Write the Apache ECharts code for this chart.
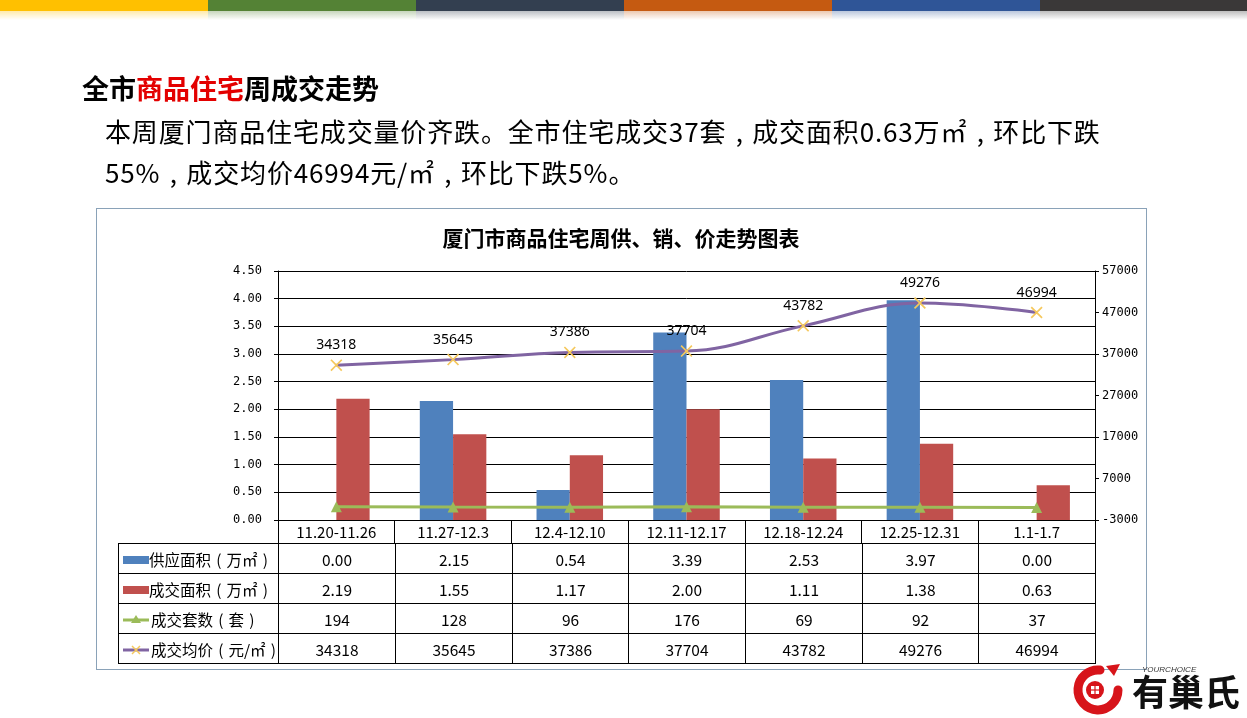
<!DOCTYPE html>
<html>
<head>
<meta charset="utf-8">
<script src="https://cdn.jsdelivr.net/npm/echarts@6/dist/echarts.min.js"></script>
<style>
  html, body { margin: 0; padding: 0; background: #fff; }
  body { width: 1247px; height: 718px; position: relative; overflow: hidden;
         font-family: "Noto Sans CJK SC", "Noto Sans", sans-serif; color: #000; }
  .stripe { position: absolute; top: 0; height: 20px; width: 208px; }
  .c { display: inline-block; width: 1em; text-align: center; letter-spacing: 0; }
  #heading { position: absolute; left: 82px; top: 70px; line-height: 36px; font-size: 27px; font-weight: bold; }
  #heading span { color: #e30000; }
  #para { position: absolute; left: 105px; top: 110px; line-height: 41px; font-size: 26px; letter-spacing: 0.85px; white-space: nowrap; }
  #box { position: absolute; left: 96px; top: 208px; width: 1049px; height: 460px; border: 1px solid #8aa2b8; }
  #chart { position: absolute; left: 0; top: 0; width: 1247px; height: 718px; }
  #tbl { position: absolute; left: 118px; top: 543px; width: 978px; border-collapse: collapse; table-layout: fixed; font-size: 15.5px; }
  #tbl td { border: 1px solid #000; height: 29px; padding: 0; text-align: center; white-space: nowrap; overflow: hidden; }
  #tbl td.name { text-align: left; }
  .key { display: inline-block; width: 26px; height: 8px; vertical-align: middle; margin: 0 0 2px 4px; }
  #logo { position: absolute; left: 1060px; top: 660px; }
</style>
</head>
<body>
<div id="box"></div>
<div id="chart"></div>
<div id="stripes"></div>
<div id="heading">全市<span>商品住宅</span>周成交走势</div>
<div id="para">本周厦门商品住宅成交量价齐跌。全市住宅成交37套<span class="c">,</span>成交面积0.63万㎡<span class="c">,</span>环比下跌<br>55%<span class="c">,</span>成交均价46994元/㎡<span class="c">,</span>环比下跌5%。</div>
<table id="tbl"></table>
<svg id="logo" width="185" height="56" viewBox="0 0 185 56">
  <path d="M40 10 A20 20 0 1 0 58 30" fill="none" stroke="#d7141a" stroke-width="9" stroke-linecap="round"/>
  <path d="M46 6 L60 4 L54 16 Z" fill="#d7141a"/>
  <circle cx="35" cy="30" r="9" fill="#d7141a"/>
  <rect x="31" y="26" width="8" height="8" fill="#fff"/>
  <line x1="35" y1="26" x2="35" y2="34" stroke="#d7141a" stroke-width="1.2"/>
  <line x1="31" y1="30" x2="39" y2="30" stroke="#d7141a" stroke-width="1.2"/>
  <text x="82" y="12" font-size="8" font-style="italic" font-family="Liberation Sans" fill="#333">YOURCHOICE</text>
  <text x="72" y="46" font-size="36" font-weight="bold" font-family="Noto Sans CJK SC" fill="#111">有巢氏</text>
</svg>
<script>
// 数据
const categories = ['11.20-11.26', '11.27-12.3', '12.4-12.10', '12.11-12.17', '12.18-12.24', '12.25-12.31', '1.1-1.7'];
const supplyArea = [0.00, 2.15, 0.54, 3.39, 2.53, 3.97, 0.00];
const dealArea = [2.19, 1.55, 1.17, 2.00, 1.11, 1.38, 0.63];
const dealUnits = [194, 128, 96, 176, 69, 92, 37];
const avgPrice = [34318, 35645, 37386, 37704, 43782, 49276, 46994];
const seriesNames = ['供应面积（万㎡）', '成交面积（万㎡）', '成交套数（套）', '成交均价（元/㎡）'];

const stripeColors = ['#ffc000', '#548235', '#333f50', '#c55a11', '#2f5597', '#3a3838'];
const stripes = document.getElementById('stripes');
stripeColors.forEach((c, i) => {
  const d = document.createElement('div');
  d.className = 'stripe';
  d.style.left = (i * 208) + 'px';
  d.style.background = 'linear-gradient(to bottom, ' + c + ' 0, ' + c + ' 11px, ' + c + '55 11px, ' + c + '00 20px)';
  stripes.appendChild(d);
});

// 表格
const keys = [
  '<span class="key" style="background:#4f81bd"></span>',
  '<span class="key" style="background:#c0504d"></span>',
  '<svg width="30" height="12" style="vertical-align:middle;margin:0 0 2px 2px"><line x1="2" y1="6" x2="28" y2="6" stroke="#9bbb59" stroke-width="3"/><path d="M15 1 L20 9 L10 9 Z" fill="#9bbb59"/></svg>',
  '<svg width="30" height="12" style="vertical-align:middle;margin:0 0 2px 2px"><line x1="2" y1="6" x2="28" y2="6" stroke="#8064a2" stroke-width="3"/><path d="M11 2 L19 10 M19 2 L11 10" stroke="#f5c85c" stroke-width="1.5"/></svg>'
];
const rows = [
  supplyArea.map(v => v.toFixed(2)),
  dealArea.map(v => v.toFixed(2)),
  dealUnits.map(String),
  avgPrice.map(String)
];
const colW = [160, 117, 117, 116, 117, 117, 116, 117];
let html = '<colgroup>' + colW.map(w => '<col style="width:' + w + 'px">').join('') + '</colgroup>';
rows.forEach((r, i) => {
  const name = seriesNames[i].replace('（', '<span class="c">(</span>').replace('）', '<span class="c">)</span>');
  html += '<tr><td class="name">' + keys[i] + name + '</td>' + r.map(v => '<td>' + v + '</td>').join('') + '</tr>';
});
document.getElementById('tbl').innerHTML = html;

const crossSymbol = 'path://M0,1L1,0L5,4L9,0L10,1L6,5L10,9L9,10L5,6L1,10L0,9L4,5Z';

const chart = echarts.init(document.getElementById('chart'));
chart.setOption({
  animation: false,
  graphic: [{
    type: 'text', x: 621, y: 238,
    style: { text: '厦门市商品住宅周供、销、价走势图表', align: 'center', verticalAlign: 'middle',
             font: 'bold 21px "Noto Sans CJK SC"', fill: '#000' }
  }],
  grid: { left: 278, right: 152, top: 271, bottom: 198 },
  xAxis: {
    type: 'category',
    data: categories,
    axisLine: { lineStyle: { color: '#000', width: 1 } },
    axisTick: { show: true, length: 23, lineStyle: { color: '#000' } },
    axisLabel: { interval: 0, margin: 5, fontSize: 15, color: '#000', fontFamily: 'Noto Sans CJK SC' }
  },
  yAxis: [{
    type: 'value', position: 'left', min: 0, max: 4.5, interval: 0.5,
    axisLine: { show: true, lineStyle: { color: '#000' } },
    axisTick: { show: true, length: 4, lineStyle: { color: '#000' } },
    splitLine: { show: true, lineStyle: { color: '#000', width: 1 } },
    axisLabel: { formatter: v => v.toFixed(2), margin: 16, fontSize: 12, color: '#000', fontFamily: 'DejaVu Sans Mono' }
  }, {
    type: 'value', position: 'right', min: -3000, max: 57000, interval: 10000,
    axisLine: { show: true, lineStyle: { color: '#000' } },
    axisTick: { show: true, length: 4, lineStyle: { color: '#000' } },
    splitLine: { show: false },
    axisLabel: { formatter: v => String(v), margin: 7, fontSize: 12, color: '#000', fontFamily: 'DejaVu Sans Mono' }
  }],
  series: [{
    name: seriesNames[0], type: 'bar', yAxisIndex: 0, data: supplyArea,
    barGap: '0%', barCategoryGap: '43%', itemStyle: { color: '#4f81bd' }
  }, {
    name: seriesNames[1], type: 'bar', yAxisIndex: 0, data: dealArea,
    barGap: '0%', barCategoryGap: '43%', itemStyle: { color: '#c0504d' }
  }, {
    name: seriesNames[2], type: 'line', yAxisIndex: 1, data: dealUnits,
    symbol: 'triangle', symbolSize: 11, itemStyle: { color: '#9bbb59' },
    lineStyle: { color: '#9bbb59', width: 3 }
  }, {
    name: seriesNames[3], type: 'line', yAxisIndex: 1, data: avgPrice,
    smooth: 0.4, symbol: crossSymbol, symbolSize: 12, showAllSymbol: true,
    itemStyle: { color: '#f5c85c' },
    lineStyle: { color: '#8064a2', width: 3 },
    label: { show: true, position: 'top', distance: 7, fontSize: 14, color: '#000', fontFamily: 'Noto Sans' }
  }]
});
</script>
</body>
</html>
